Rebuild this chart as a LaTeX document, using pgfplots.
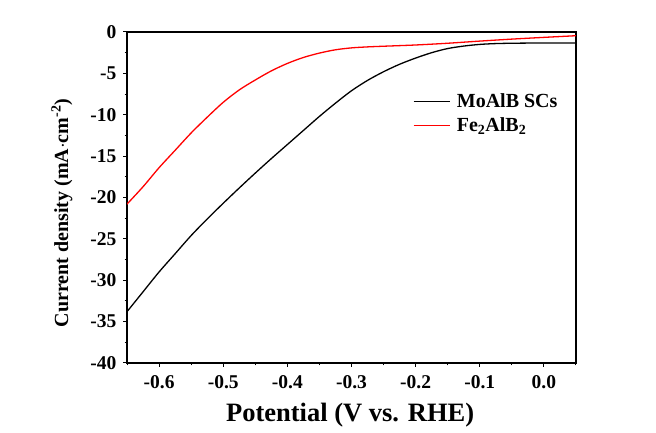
\documentclass[border=0pt]{standalone}
\usepackage{pgfplots}
\pgfplotsset{compat=1.18}
\usepackage{fontspec}
\setmainfont{Liberation Serif}
\begin{document}
\begin{tikzpicture}
\useasboundingbox (0pt,0pt) rectangle (656pt,433pt);
\begin{axis}[
  at={(127pt,70pt)}, anchor=south west,
  scale only axis, width=449pt, height=331pt,
  xmin=-0.65, xmax=0.05, ymin=-40, ymax=0,
  /pgf/number format/assume math mode=true,
  xtick={-0.6,-0.5,-0.4,-0.3,-0.2,-0.1,0.0},
  xticklabels={-0.6,-0.5,-0.4,-0.3,-0.2,-0.1,0.0},
  minor xtick={-0.65,-0.55,-0.45,-0.35,-0.25,-0.15,-0.05,0.05},
  ytick={-40,-35,-30,-25,-20,-15,-10,-5,0},
  yticklabels={-40,-35,-30,-25,-20,-15,-10,-5,0},
  minor ytick={-37.5,-32.5,-27.5,-22.5,-17.5,-12.5,-7.5,-2.5},
  tick pos=left, tick align=outside,
  major tick length=4pt, minor tick length=2.5pt,
  every tick/.style={black, line width=1pt},
  axis line style={line width=1.2pt},
  ticklabel style={font=\fontsize{19.5}{21}\selectfont\bfseries},
  xticklabel style={yshift=-5pt},
  yticklabel style={xshift=-3pt},
  xlabel={Potential (V vs. RHE)},
  ylabel={Current density (mA$\cdot$cm\textsuperscript{-2})},
  xlabel style={font=\fontsize{26.5}{28}\selectfont\bfseries, at={(axis description cs:0.497,-0.156)}, anchor=center},
  ylabel style={font=\fontsize{20}{22}\selectfont\bfseries, at={(axis description cs:-0.145,0.453)}, anchor=center},
  legend style={draw=none, fill=none, at={(axis description cs:0.63,0.825)}, anchor=north west,
    font=\fontsize{20}{22}\selectfont\bfseries, row sep=4pt,
    nodes={inner xsep=6.5pt}},
  legend cell align=left,
  legend image code/.code={\draw[#1] (0pt,0pt) -- (36pt,0pt);},
]
\addplot[black, line width=1.3pt, smooth] coordinates {
(-0.65,-33.8) (-0.625,-31.4) (-0.60,-29.0) (-0.575,-26.8) (-0.55,-24.6)
(-0.525,-22.6) (-0.50,-20.7) (-0.475,-18.85) (-0.45,-17.05) (-0.425,-15.3)
(-0.40,-13.6) (-0.375,-11.9) (-0.35,-10.2) (-0.325,-8.6) (-0.30,-7.1)
(-0.275,-5.85) (-0.25,-4.8) (-0.225,-3.9) (-0.20,-3.15) (-0.175,-2.5)
(-0.15,-2.0) (-0.125,-1.7) (-0.10,-1.5) (-0.075,-1.4) (-0.05,-1.36)
(-0.025,-1.34) (0.0,-1.33) (0.025,-1.32) (0.05,-1.32)
};
\addlegendentry{MoAlB SCs}
\addplot[red, line width=1.3pt, smooth] coordinates {
(-0.65,-20.8) (-0.625,-18.7) (-0.60,-16.4) (-0.575,-14.3) (-0.55,-12.2)
(-0.525,-10.3) (-0.50,-8.5) (-0.475,-7.0) (-0.45,-5.8) (-0.425,-4.7)
(-0.40,-3.8) (-0.375,-3.08) (-0.35,-2.55) (-0.325,-2.15) (-0.30,-1.92)
(-0.275,-1.8) (-0.25,-1.72) (-0.20,-1.57) (-0.15,-1.36) (-0.10,-1.1)
(-0.05,-0.86) (0.0,-0.65) (0.05,-0.45)
};
\addlegendentry{Fe\textsubscript{2}AlB\textsubscript{2}}
\end{axis}
\end{tikzpicture}
\end{document}
